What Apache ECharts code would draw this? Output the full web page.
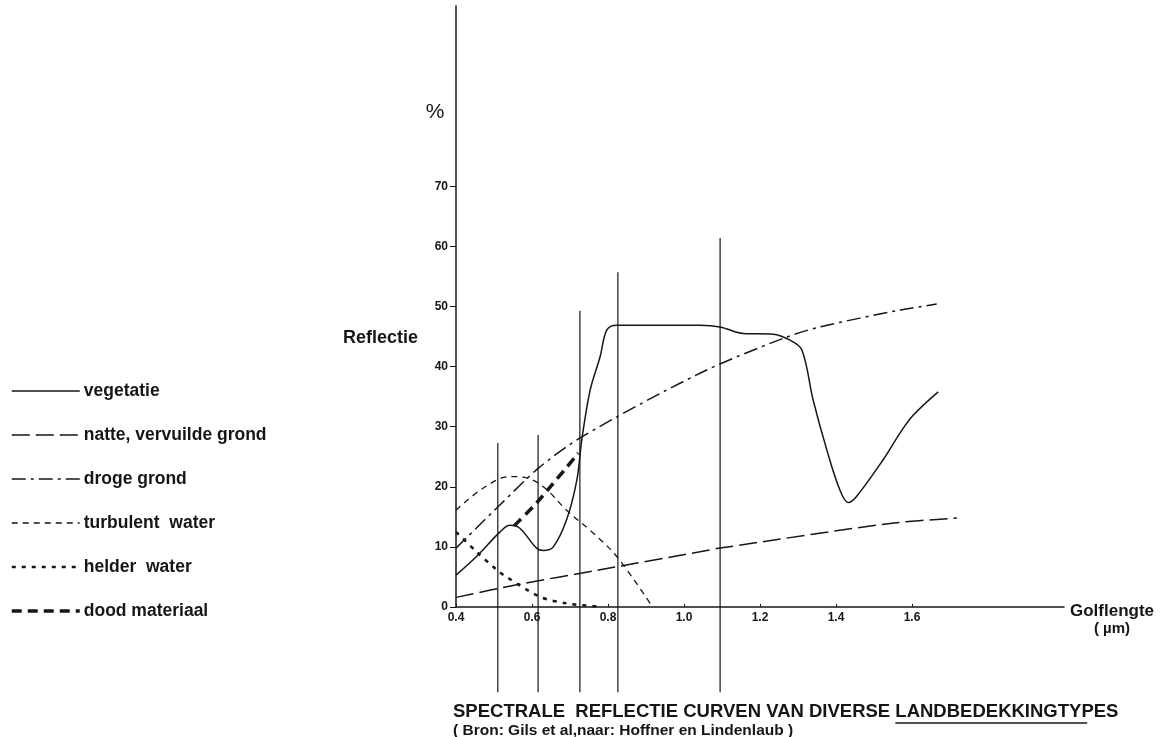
<!DOCTYPE html>
<html>
<head>
<meta charset="utf-8">
<script src="https://cdn.jsdelivr.net/npm/echarts@6/dist/echarts.min.js"></script>
<style>
  html, body { margin: 0; background: #fff; }
  #chart { width: 1170px; height: 737px; }
</style>
</head>
<body>
<div id="chart"></div>
<script>
// as-klassen
const xTicks = [0.4, 0.6, 0.8, 1.0, 1.2, 1.4, 1.6]
const yTicks = [0, 10, 20, 30, 40, 50, 60, 70]

// band-grenzen (verticale lijnen)
const bandEdges = [0.51, 0.616, 0.726, 0.826, 1.095]
const bandTops = [27.3, 28.6, 49.3, 55.7, 61.4]
const bandBottom = -14.2

// curves [golflengte, reflectie %]
const vegetatie = [
  [0.4, 5.3], [0.454, 8.4], [0.516, 12.5], [0.542, 13.6], [0.568, 13.1],
  [0.612, 9.8], [0.63, 9.4], [0.656, 10.0], [0.691, 14.5], [0.718, 21.1],
  [0.731, 27.8], [0.753, 36.1], [0.779, 41.6], [0.797, 46.1], [0.823, 46.9],
  [0.911, 46.9], [1.042, 46.9], [1.095, 46.6], [1.156, 45.5], [1.235, 45.4],
  [1.279, 44.4], [1.31, 42.8], [1.34, 34.4], [1.376, 26.1], [1.41, 19.5],
  [1.432, 17.4], [1.454, 18.4], [1.524, 24.5], [1.568, 28.9], [1.603, 31.9],
  [1.669, 35.8]
]
const natteGrond = [
  [0.4, 1.6], [0.56, 3.7], [0.779, 6.2], [1.042, 9.2], [1.095, 9.8],
  [1.542, 13.9], [1.718, 14.8]
]
const drogeGrond = [
  [0.4, 9.8], [0.516, 17.0], [0.617, 23.1], [0.731, 28.3], [1.042, 38.9],
  [1.261, 44.7], [1.358, 46.6], [1.568, 49.4], [1.665, 50.4]
]
const turbulentWater = [
  [0.4, 16.1], [0.472, 19.8], [0.542, 21.7], [0.577, 21.6], [0.63, 20.0],
  [0.691, 16.1], [0.761, 12.3], [0.823, 8.4], [0.911, 0.6]
]
const helderWater = [
  [0.4, 12.5], [0.454, 9.2], [0.507, 6.2], [0.533, 5.0], [0.621, 1.7],
  [0.691, 0.6], [0.77, 0.1]
]
const doodMateriaal = [
  [0.553, 13.5], [0.612, 17.3], [0.722, 25.6]
]

const legendNames = ['vegetatie', 'natte, vervuilde grond', 'droge grond', 'turbulent  water', 'helder  water', 'dood materiaal']
const titleText = 'SPECTRALE  REFLECTIE CURVEN VAN DIVERSE '
const titleWord = 'LANDBEDEKKINGTYPES'
const sourceText = '( Bron: Gils et al,naar: Hoffner en Lindenlaub )'

const INK = '#161616'
const FONT = '"Liberation Sans", Arial, sans-serif'
const TITLE_FONT = 'bold 18.5px ' + FONT

const curve = (name, data, width, type, smooth) => ({
  name,
  type: 'line',
  data,
  symbol: 'none',
  smooth,
  clip: false,
  lineStyle: {color: INK, width, type},
  itemStyle: {color: INK},
  z: 3,
})

const bandSeries = bandEdges.map((x, i) => ({
  name: 'band' + i,
  type: 'line',
  data: [[x, bandTops[i]], [x, bandBottom]],
  symbol: 'none',
  clip: false,
  silent: true,
  lineStyle: {color: INK, width: 1.2},
  z: 2,
}))

const text = (x, y, str, font, align) => ({
  type: 'text',
  x,
  y,
  style: {text: str, font: font + ' ' + FONT, fill: INK, textAlign: align || 'left', textVerticalAlign: 'middle'},
})

// onderstreping onder het laatste woord van de titel
const ctx = document.createElement('canvas').getContext('2d')
ctx.font = TITLE_FONT
const ulStart = 453 + ctx.measureText(titleText).width
const ulEnd = ulStart + ctx.measureText(titleWord).width * 0.86

const chart = echarts.init(document.getElementById('chart'), null, {renderer: 'canvas'})

chart.setOption({
  backgroundColor: '#fff',
  animation: false,
  grid: {left: 456, right: 106, top: 6, bottom: 130, outerBoundsMode: 'none'},
  legend: {
    orient: 'vertical',
    left: 10,
    top: 382,
    padding: 0,
    itemWidth: 68,
    itemHeight: 14,
    itemGap: 26,
    itemStyle: {opacity: 0},
    lineStyle: {width: 'inherit'},
    data: legendNames,
    textStyle: {color: INK, fontSize: 17.5, fontWeight: 'bold', fontFamily: FONT, padding: [0, 0, 0, -1]},
    selectedMode: false,
  },
  xAxis: {
    type: 'value',
    min: 0.4,
    max: 2.0,
    interval: 0.2,
    axisLine: {lineStyle: {color: INK, width: 1.5}},
    axisTick: {show: true, inside: true, length: 3, customValues: xTicks, lineStyle: {color: INK}},
    axisLabel: {
      customValues: xTicks,
      color: INK,
      fontSize: 12,
      fontWeight: 'bold',
      fontFamily: FONT,
      margin: 5,
      formatter: (v) => v.toFixed(1),
    },
    splitLine: {show: false},
  },
  yAxis: {
    type: 'value',
    min: 0,
    max: 100,
    interval: 10,
    axisLine: {show: true, lineStyle: {color: INK, width: 1.5}},
    axisTick: {show: true, length: 6, customValues: yTicks, lineStyle: {color: INK}},
    axisLabel: {customValues: yTicks, color: INK, fontSize: 12, fontWeight: 'bold', fontFamily: FONT, margin: 8},
    splitLine: {show: false},
  },
  graphic: [
    text(435, 112, '%', '21px', 'center'),
    text(343, 338, 'Reflectie', 'bold 18px'),
    text(1070, 611, 'Golflengte', 'bold 17px'),
    text(1112, 629, '( µm)', 'bold 15px', 'center'),
    {type: 'text', x: 453, y: 712, style: {text: titleText + titleWord, font: TITLE_FONT, fill: INK, textVerticalAlign: 'middle'}},
    {type: 'line', shape: {x1: ulStart, y1: 723, x2: ulEnd, y2: 723}, style: {stroke: INK, lineWidth: 1.3}},
    text(453, 731, sourceText, 'bold 15.5px'),
  ],
  series: [
    curve(legendNames[0], vegetatie, 1.5, 'solid', 0.35),
    curve(legendNames[1], natteGrond, 1.5, [18, 6], 0.3),
    curve(legendNames[2], drogeGrond, 1.5, [14, 5, 3, 5], 0.3),
    curve(legendNames[3], turbulentWater, 1.3, [6, 5], 0.35),
    curve(legendNames[4], helderWater, 2.5, [4, 6], 0.3),
    curve(legendNames[5], doodMateriaal, 3.5, [10, 6], 0.2),
    ...bandSeries,
  ],
})
</script>
</body>
</html>
